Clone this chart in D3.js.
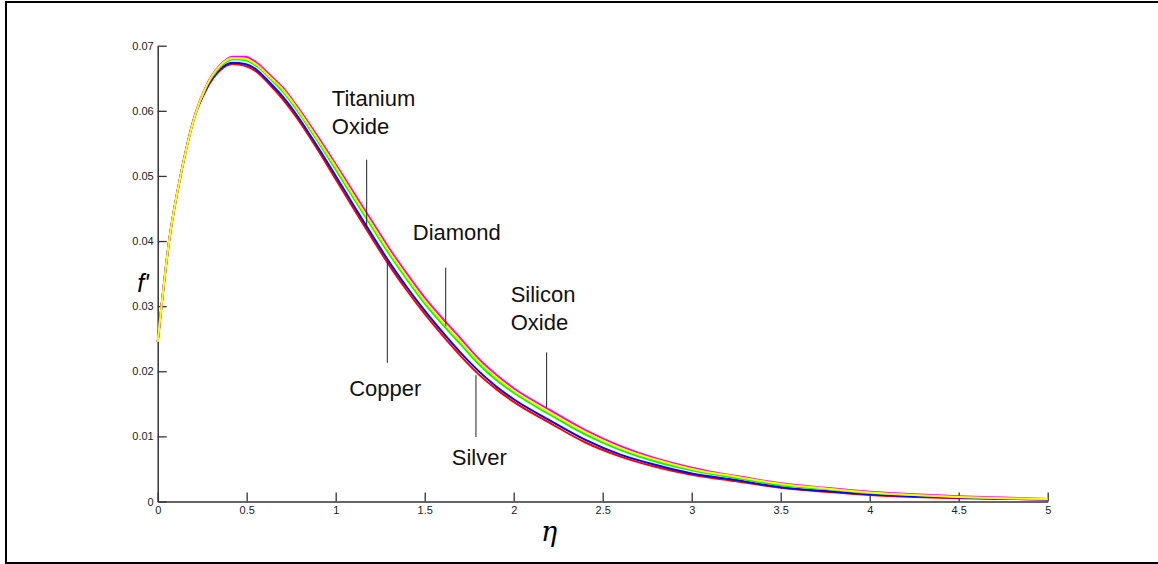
<!DOCTYPE html>
<html>
<head>
<meta charset="utf-8">
<title>f' profiles</title>
<script src="https://d3js.org/d3.v7.min.js"></script>
<style>
  body { margin: 0; background: #fff; }
  text { font-family: Arial, "Liberation Sans", sans-serif; }
</style>
</head>
<body>
<div id="wrapper"></div>
<script>
// eta grid
const eta = [0, 0.065, 0.135, 0.205, 0.275, 0.35, 0.42, 0.49, 0.56, 0.63, 0.705, 0.78, 0.9, 1.0,
  1.1, 1.2, 1.3, 1.4, 1.5, 1.6, 1.7, 1.8, 1.9, 2.0, 2.2, 2.4, 2.6, 2.8, 3.0, 3.25, 3.5, 3.75,
  4.0, 4.25, 4.5, 4.75, 5.0];

// f' for each nanofluid (colours as in the picture)
const red = [0.0245, 0.0402, 0.0509, 0.0589, 0.0634, 0.0662, 0.0672, 0.0669, 0.0659, 0.0640, 0.0617, 0.0590, 0.0540, 0.0495,
  0.0450, 0.0406, 0.0363, 0.0324, 0.0288, 0.0255, 0.0224, 0.0196, 0.0173, 0.0153, 0.0121, 0.0091, 0.0069, 0.0053, 0.0041, 0.0031, 0.0021, 0.0015,
  0.0010, 0.0007, 0.0005, 0.0004, 0.0003];
const blue = [0.0245, 0.0402, 0.0509, 0.0589, 0.0635, 0.0664, 0.0674, 0.0672, 0.0662, 0.0643, 0.0621, 0.0594, 0.0544, 0.0500,
  0.0455, 0.0411, 0.0368, 0.0329, 0.0293, 0.0260, 0.0229, 0.0201, 0.0177, 0.0157, 0.0125, 0.0095, 0.0072, 0.0056, 0.0043, 0.0033, 0.0022, 0.0016,
  0.0011, 0.0008, 0.0006, 0.0004, 0.0003];
const green = [0.0245, 0.0402, 0.0509, 0.0589, 0.0638, 0.0667, 0.0679, 0.0678, 0.0668, 0.0650, 0.0629, 0.0602, 0.0553, 0.0510,
  0.0466, 0.0423, 0.0380, 0.0341, 0.0304, 0.0272, 0.0242, 0.0212, 0.0187, 0.0167, 0.0134, 0.0103, 0.0079, 0.0061, 0.0048, 0.0036, 0.0025, 0.0019,
  0.0013, 0.0010, 0.0007, 0.0005, 0.0004];
const yellow = [0.0245, 0.0402, 0.0509, 0.0589, 0.0639, 0.0669, 0.0681, 0.0680, 0.0670, 0.0652, 0.0632, 0.0605, 0.0556, 0.0514,
  0.0470, 0.0427, 0.0384, 0.0345, 0.0308, 0.0276, 0.0246, 0.0216, 0.0191, 0.0170, 0.0137, 0.0107, 0.0082, 0.0064, 0.0050, 0.0038, 0.0027, 0.0020,
  0.0014, 0.0010, 0.0007, 0.0005, 0.0004];
const magenta = [0.0245, 0.0402, 0.0509, 0.0590, 0.0640, 0.0670, 0.0683, 0.0683, 0.0673, 0.0655, 0.0635, 0.0608, 0.0560, 0.0518,
  0.0475, 0.0432, 0.0389, 0.0350, 0.0313, 0.0281, 0.0251, 0.0220, 0.0195, 0.0174, 0.0141, 0.0110, 0.0085, 0.0066, 0.0052, 0.0039, 0.0028, 0.0021,
  0.0015, 0.0011, 0.0008, 0.0006, 0.0004];

const xTicks = [0, 0.5, 1, 1.5, 2, 2.5, 3, 3.5, 4, 4.5, 5];
const xTickLabels = ["0", "0.5", "1", "1.5", "2", "2.5", "3", "3.5", "4", "4.5", "5"];
const yTicks = [0, 0.01, 0.02, 0.03, 0.04, 0.05, 0.06, 0.07];
const yTickLabels = ["0", "0.01", "0.02", "0.03", "0.04", "0.05", "0.06", "0.07"];

// annotation labels: text lines, anchor in data units, pointer line (eta, from, to)
const labelNames = [["Titanium", "Oxide"], ["Diamond"], ["Copper"], ["Silicon", "Oxide"], ["Silver"]];
const labelAt = [[0.978, 0.0608], [1.433, 0.0401], [1.076, 0.0162], [1.983, 0.0307], [1.652, 0.0056]];
const pointers = [[1.174, 0.0525, 0.0422], [1.618, 0.0359, 0.0269], [1.290, 0.0369, 0.0213],
  [2.185, 0.0229, 0.0144], [1.788, 0.0194, 0.0099]];

const dimensions = {
  width: 1158,
  height: 564,
  margin: { top: 45.7, right: 110.3, bottom: 62.5, left: 157.7 }
};
dimensions.boundedWidth = dimensions.width - dimensions.margin.left - dimensions.margin.right;
dimensions.boundedHeight = dimensions.height - dimensions.margin.top - dimensions.margin.bottom;

const wrapper = d3.select("#wrapper").append("svg")
  .attr("width", dimensions.width).attr("height", dimensions.height);

// outer frame (right side runs past the picture)
wrapper.append("rect")
  .attr("x", 6).attr("y", 2).attr("width", 1160).attr("height", 561)
  .attr("fill", "none").attr("stroke", "#000").attr("stroke-width", 2);

const bounds = wrapper.append("g")
  .attr("transform", `translate(${dimensions.margin.left},${dimensions.margin.top})`);

const xScale = d3.scaleLinear().domain([0, 5]).range([0, dimensions.boundedWidth]);
const yScale = d3.scaleLinear().domain([0, 0.07]).range([dimensions.boundedHeight, 0]);

const xAxis = bounds.append("g")
  .attr("transform", `translate(0,${dimensions.boundedHeight})`)
  .call(d3.axisBottom(xScale).tickValues(xTicks).tickFormat((d, i) => xTickLabels[i])
    .tickSize(-9).tickSizeOuter(0).tickPadding(5));
const yAxis = bounds.append("g")
  .call(d3.axisLeft(yScale).tickValues(yTicks).tickFormat((d, i) => yTickLabels[i])
    .tickSize(-9).tickSizeOuter(0).tickPadding(4));

[xAxis, yAxis].forEach(ax => {
  ax.select(".domain").attr("stroke", "#333").attr("stroke-width", 1.5);
  ax.selectAll(".tick line").attr("stroke", "#333").attr("stroke-width", 1.3);
  ax.selectAll(".tick text").attr("fill", "#222").style("font-size", "11px")
    .style("font-family", "Arial, 'Liberation Sans', sans-serif");
});

// curves: yellow last, it sits on top where they overlap
const series = [
  { values: red, color: "#ff0000" },
  { values: blue, color: "#0000ff" },
  { values: green, color: "#00ff00" },
  { values: magenta, color: "#ff00ff" },
  { values: yellow, color: "#ffff00" }
];

const lineGenerator = d3.line()
  .x((d, i) => xScale(eta[i]))
  .y(d => yScale(d))
  .curve(d3.curveMonotoneX);

bounds.selectAll(".curve").data(series).join("path")
  .attr("class", "curve")
  .attr("d", s => lineGenerator(s.values))
  .attr("fill", "none")
  .attr("stroke", s => s.color)
  .attr("stroke-width", 2);

// pointer lines
bounds.selectAll(".pointer").data(pointers).join("line")
  .attr("class", "pointer")
  .attr("x1", d => xScale(d[0])).attr("x2", d => xScale(d[0]))
  .attr("y1", d => yScale(d[1])).attr("y2", d => yScale(d[2]))
  .attr("stroke", "#222").attr("stroke-width", 1);

// labels
const labels = bounds.selectAll(".label").data(labelNames).join("text")
  .attr("class", "label")
  .attr("x", (d, i) => xScale(labelAt[i][0]))
  .attr("y", (d, i) => yScale(labelAt[i][1]))
  .style("font-size", "22px")
  .attr("fill", "#111");
labels.each(function (d, i) {
  const t = d3.select(this);
  d.forEach((line, j) => {
    t.append("tspan")
      .attr("x", xScale(labelAt[i][0]))
      .attr("dy", j === 0 ? 0 : "1.28em")
      .text(line);
  });
});

// axis titles
wrapper.append("text")
  .attr("x", 143).attr("y", 292)
  .attr("text-anchor", "middle")
  .style("font-size", "25px").style("font-style", "italic")
  .text("f'");

wrapper.append("text")
  .attr("x", 549).attr("y", 541)
  .attr("text-anchor", "middle")
  .style("font-family", "'DejaVu Serif', 'Liberation Serif', serif")
  .style("font-size", "27px").style("font-style", "italic")
  .text("η");
</script>
</body>
</html>
